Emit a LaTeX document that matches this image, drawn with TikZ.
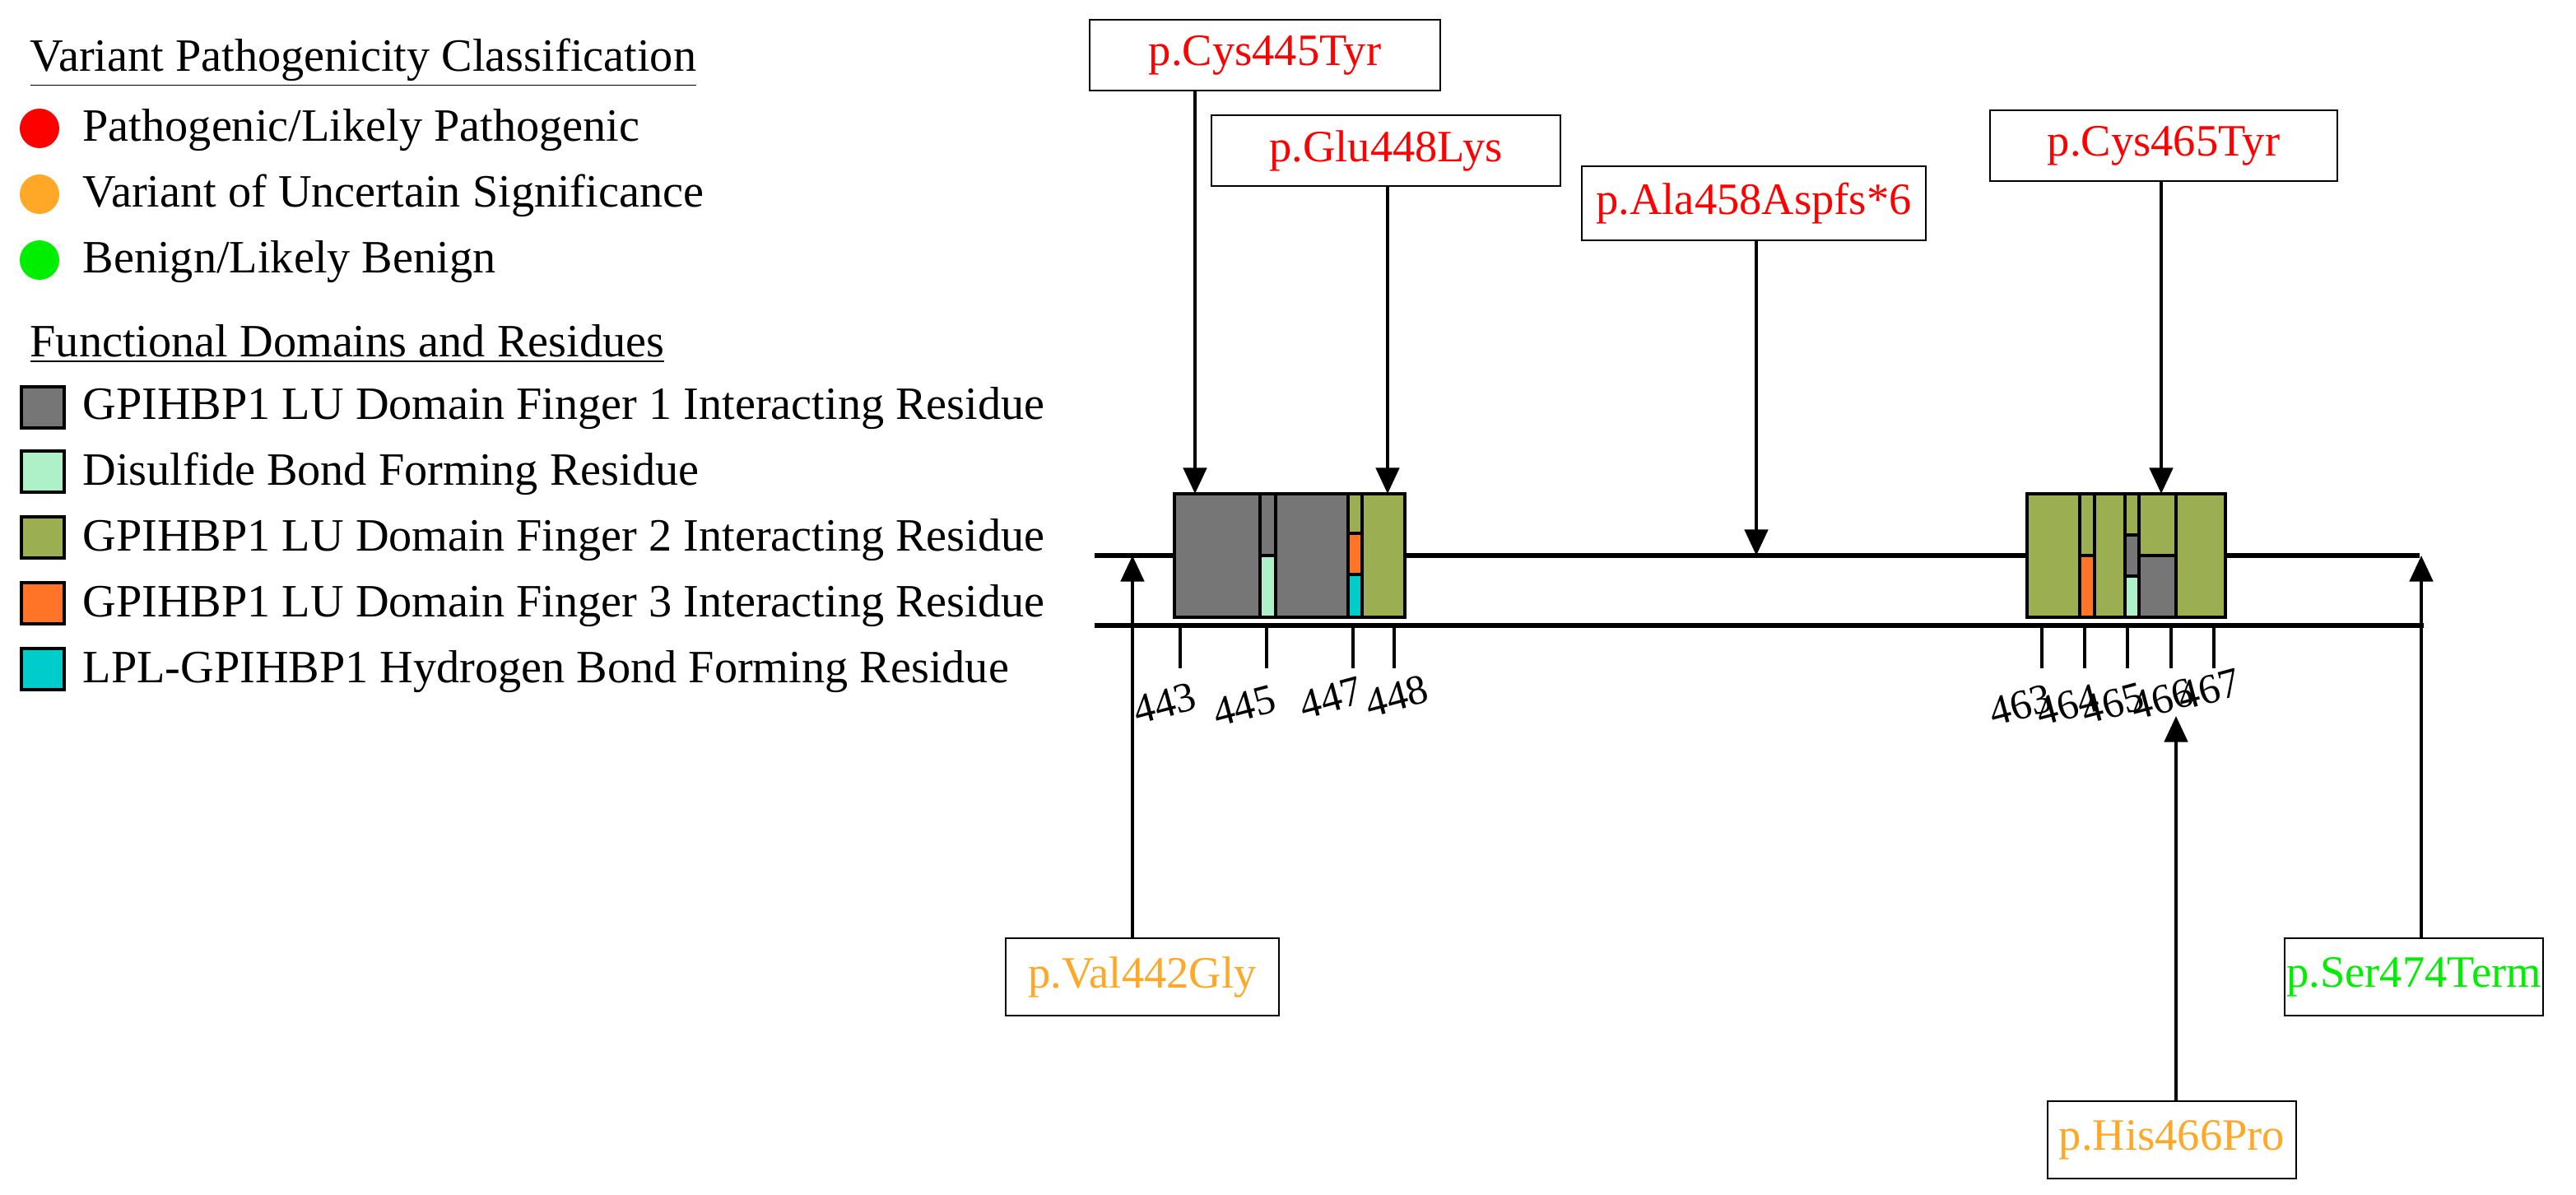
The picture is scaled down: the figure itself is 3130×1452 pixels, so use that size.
\documentclass[tikz,border=0pt]{standalone}
\usepackage{fontspec}
\setmainfont{Liberation Serif}
\usetikzlibrary{arrows.meta}
\definecolor{fg}{HTML}{767676}
\definecolor{mint}{HTML}{AEF0C8}
\definecolor{olive}{HTML}{9BAF52}
\definecolor{orng}{HTML}{FF7427}
\definecolor{cyn}{HTML}{00CCCC}
\definecolor{vred}{HTML}{FF0000}
\definecolor{vorg}{HTML}{FFA726}
\definecolor{vgrn}{HTML}{00EE00}
\begin{document}
\begin{tikzpicture}[x=0.01cm,y=-0.01cm,
  txt/.style={font=\fontsize{16}{19}\selectfont,anchor=west,inner sep=0},
  cell/.style={draw=black,line width=0.9pt},
  call/.style={draw=black,line width=0.6pt,font=\fontsize{15.5}{19}\selectfont,inner sep=0},
  arr/.style={line width=1.3pt,-{Triangle[length=9pt,width=8pt]}},
  tick/.style={line width=1.3pt},
  num/.style={font=\fontsize{14.5}{17}\selectfont,rotate=15,inner sep=0}]
\useasboundingbox (0,0) rectangle (3130,1452);
% legend
\node[txt] (t1) at (36,76) {\underline{Variant Pathogenicity Classification}};
\fill[vred] (48,156) circle (24); \node[txt] (l1) at (100,158) {Pathogenic/Likely Pathogenic};
\fill[vorg] (48,236) circle (24); \node[txt] (l2) at (100,238) {Variant of Uncertain Significance};
\fill[vgrn] (48,316) circle (24); \node[txt] (l3) at (100,318) {Benign/Likely Benign};
\node[txt] (t2) at (36,418) {\underline{Functional Domains and Residues}};
\draw[cell,fill=fg] (26,470) rectangle (78,520); \node[txt] (d1) at (100,496) {GPIHBP1 LU Domain Finger 1 Interacting Residue};
\draw[cell,fill=mint] (26,548) rectangle (78,598); \node[txt] (d2) at (100,576) {Disulfide Bond Forming Residue};
\draw[cell,fill=olive] (26,628) rectangle (78,678); \node[txt] (d3) at (100,656) {GPIHBP1 LU Domain Finger 2 Interacting Residue};
\draw[cell,fill=orng] (26,708) rectangle (78,758); \node[txt] (d4) at (100,736) {GPIHBP1 LU Domain Finger 3 Interacting Residue};
\draw[cell,fill=cyn] (26,788) rectangle (78,838); \node[txt] (d5) at (100,816) {LPL-GPIHBP1 Hydrogen Bond Forming Residue};
% lines
\draw[line width=1.7pt] (1330,675) -- (2940,675);
\draw[line width=1.7pt] (1330,760) -- (2945,760);
% box 1
\draw[cell,fill=fg] (1427,600) rectangle (1531,750);
\draw[cell,fill=fg] (1531,600) rectangle (1550,675);
\draw[cell,fill=mint] (1531,675) rectangle (1550,750);
\draw[cell,fill=fg] (1550,600) rectangle (1638,750);
\draw[cell,fill=olive] (1638,600) rectangle (1655,648);
\draw[cell,fill=orng] (1638,648) rectangle (1655,698);
\draw[cell,fill=cyn] (1638,698) rectangle (1655,750);
\draw[cell,fill=olive] (1655,600) rectangle (1707,750);
% box 2
\draw[cell,fill=olive] (2463,600) rectangle (2527,750);
\draw[cell,fill=olive] (2527,600) rectangle (2545,675);
\draw[cell,fill=orng] (2527,675) rectangle (2545,750);
\draw[cell,fill=olive] (2545,600) rectangle (2582,750);
\draw[cell,fill=olive] (2582,600) rectangle (2599,650);
\draw[cell,fill=fg] (2582,650) rectangle (2599,700);
\draw[cell,fill=mint] (2599,700) rectangle (2582,750);
\draw[cell,fill=olive] (2599,600) rectangle (2644,675);
\draw[cell,fill=fg] (2599,675) rectangle (2644,750);
\draw[cell,fill=olive] (2644,600) rectangle (2704,750);
% ticks and numbers
\foreach \x/\l/\lx/\ly in {1434/443/1415/855,1539/445/1512/858,1644/447/1617/848,1694/448/1697/846,
  2481/463/2455/857,2533/464/2512/857,2585/465/2567/855,2638/466/2627/850,2690/467/2684/838}{
  \draw[tick] (\x,760) -- (\x,812);
  \node[num] (n\l) at (\lx,\ly) {\l};}
% callouts
\node[call,minimum width=426*0.01cm,minimum height=86*0.01cm,text=vred] (c1) at (1537,67) {p.Cys445Tyr};
\node[call,minimum width=424*0.01cm,minimum height=86*0.01cm,text=vred] (c2) at (1684,183) {p.Glu448Lys};
\node[call,minimum width=418*0.01cm,minimum height=90*0.01cm,text=vred] (c3) at (2131,247) {p.Ala458Aspfs*6};
\node[call,minimum width=422*0.01cm,minimum height=86*0.01cm,text=vred] (c4) at (2629,177) {p.Cys465Tyr};
\node[call,minimum width=332*0.01cm,minimum height=94*0.01cm,text=vorg] (c5) at (1388,1187) {p.Val442Gly};
\node[call,minimum width=314*0.01cm,minimum height=94*0.01cm,text=vgrn] (c6) at (2933,1187) {p.Ser474Term};
\node[call,minimum width=302*0.01cm,minimum height=94*0.01cm,text=vorg] (c7) at (2639,1385) {p.His466Pro};
\coordinate (e1) at (1452,600); \coordinate (e2) at (1686,600); \coordinate (e3) at (2134,675);
\coordinate (e4) at (2626,600); \coordinate (e5) at (1376,675); \coordinate (e6) at (2942,675);
\coordinate (e7) at (2644,870);
\draw[arr] (c1.south -| e1) -- (e1);
\draw[arr] (c2.south -| e2) -- (e2);
\draw[arr] (c3.south -| e3) -- (e3);
\draw[arr] (c4.south -| e4) -- (e4);
\draw[arr] (c5.north -| e5) -- (e5);
\draw[arr] (c6.north -| e6) -- (e6);
\draw[arr] (c7.north -| e7) -- (e7);
\end{tikzpicture}
\end{document}
